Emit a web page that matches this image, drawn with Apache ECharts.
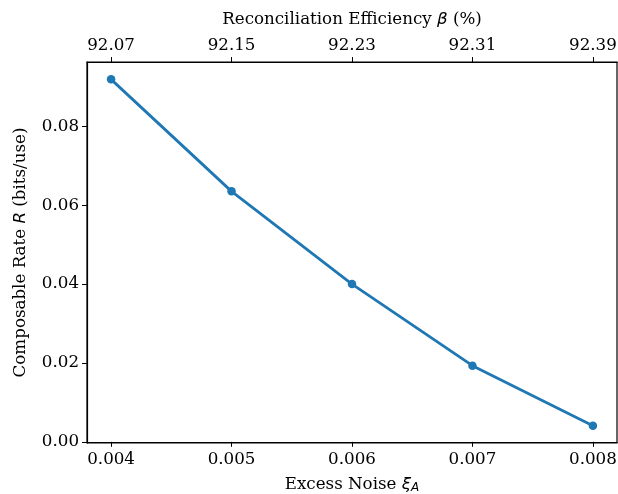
<!DOCTYPE html>
<html>
<head>
<meta charset="utf-8">
<script src="https://cdn.jsdelivr.net/npm/echarts@6/dist/echarts.min.js"></script>
<style>
  html, body { margin: 0; padding: 0; background: #fff; }
  #chart { width: 618px; height: 494px; }
</style>
</head>
<body>
<div id="chart"></div>
<script>
// data
const noise = [0.004, 0.005, 0.006, 0.007, 0.008];
const rate = [0.0919, 0.0635, 0.0400, 0.0193, 0.0041];
const betaLabels = ["92.07", "92.15", "92.23", "92.31", "92.39"];
const yTicks = [0.00, 0.02, 0.04, 0.06, 0.08];

const serif = "DejaVu Serif";
const fs = 16.7;
const tickFont = { color: "#000", fontFamily: serif, fontSize: fs };
const nameRich = {
  n: { fontFamily: serif, fontSize: fs, color: "#000" },
  i: { fontFamily: "DejaVu Sans", fontStyle: "italic", fontSize: fs, color: "#000" },
  s: { fontFamily: "DejaVu Sans", fontStyle: "italic", fontSize: 12, color: "#000", verticalAlign: "bottom", padding: [7, 0, 0, 0] }
};

const chart = echarts.init(document.getElementById("chart"));
chart.setOption({
  animation: false,
  grid: {
    left: 87, right: 1, top: 62, bottom: 51,
    outerBoundsMode: "none", containLabel: false,
    show: true, borderColor: "#000", borderWidth: 1.2, backgroundColor: "transparent"
  },
  xAxis: [
    {
      type: "value", position: "bottom",
      min: 0.0038, max: 0.0082,
      name: "{n|Excess Noise }{i|ξ}{s|A}",
      nameLocation: "middle", nameGap: 32,
      nameTextStyle: { rich: nameRich },
      axisLine: { show: true, lineStyle: { color: "#000", width: 1.2 } },
      axisTick: { show: true, length: 5, lineStyle: { color: "#000" }, customValues: noise },
      axisLabel: { ...tickFont, margin: 8, customValues: noise, formatter: v => v.toFixed(3) },
      splitLine: { show: false }
    },
    {
      type: "value", position: "top",
      min: 0.0038, max: 0.0082,
      name: "{n|Reconciliation Efficiency }{i|β}{n| (%)}",
      nameLocation: "middle", nameGap: 34,
      nameTextStyle: { rich: nameRich },
      axisLine: { show: true, lineStyle: { color: "#000", width: 1.2 } },
      axisTick: { show: true, length: 5, lineStyle: { color: "#000" }, customValues: noise },
      axisLabel: {
        ...tickFont, margin: 8, customValues: noise,
        formatter: v => betaLabels[noise.findIndex(n => Math.abs(n - v) < 1e-9)] || ""
      },
      splitLine: { show: false }
    }
  ],
  yAxis: {
    type: "value",
    min: -0.0003, max: 0.0963,
    name: "{n|Composable Rate }{i|R}{n| (bits/use)}",
    nameLocation: "middle", nameGap: 58, nameRotate: 90,
    nameTextStyle: { rich: nameRich },
    axisLine: { show: true, lineStyle: { color: "#000", width: 1.2 } },
    axisTick: { show: true, length: 5, lineStyle: { color: "#000" }, customValues: yTicks },
    axisLabel: { ...tickFont, margin: 8, customValues: yTicks, formatter: v => v.toFixed(2) },
    splitLine: { show: false }
  },
  series: [{
    type: "line",
    xAxisIndex: 0,
    data: noise.map((x, i) => [x, rate[i]]),
    symbol: "circle", symbolSize: 8.5,
    lineStyle: { color: "#1f77b4", width: 2.8 },
    itemStyle: { color: "#1f77b4" }
  }]
});
</script>
</body>
</html>
